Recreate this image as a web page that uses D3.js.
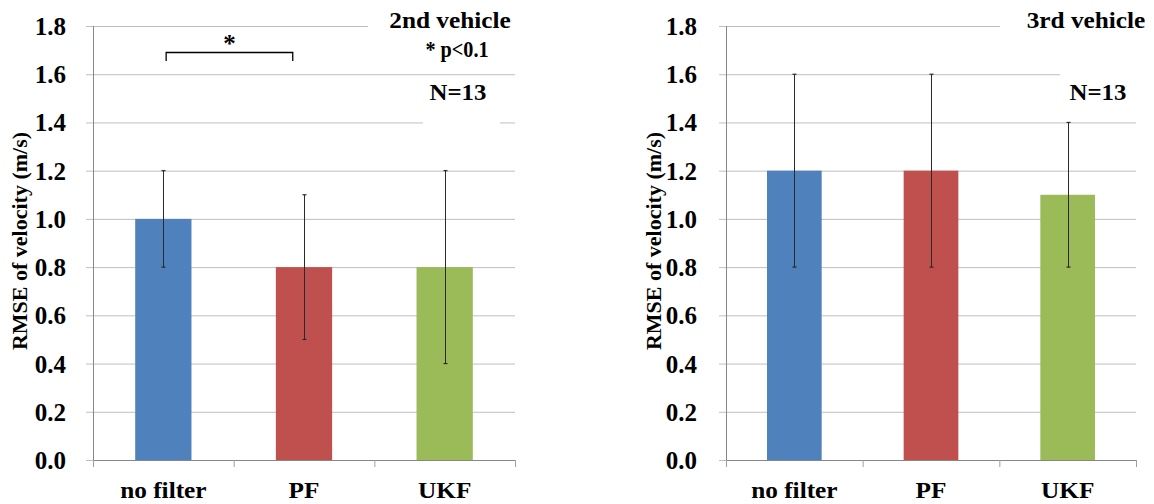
<!DOCTYPE html>
<html>
<head>
<meta charset="utf-8">
<script src="https://cdn.jsdelivr.net/npm/d3@7"></script>
<style>
  html, body { margin: 0; padding: 0; background: #fff; }
</style>
</head>
<body>
<svg id="chart" width="1154" height="504"></svg>
<script>
// ---- data ----
const categories = ["no filter", "PF", "UKF"];
const meanSecond = [1.0, 0.8, 0.8];
const lowSecond  = [0.8, 0.5, 0.4];
const highSecond = [1.2, 1.1, 1.2];
const meanThird  = [1.2, 1.2, 1.1];
const lowThird   = [0.8, 0.8, 0.8];
const highThird  = [1.6, 1.6, 1.4];
const yTicks = [0, 0.2, 0.4, 0.6, 0.8, 1.0, 1.2, 1.4, 1.6, 1.8];
const barColors = ["#4F81BD", "#C0504D", "#9BBB59"];
const yTitle = "RMSE of velocity  (m/s)";
const sigLevel = [1.69, 1.655];

const FONT = '"Liberation Serif"';
const svg = d3.select("#chart");

function styleText(sel, size) {
  sel.attr("font-family", FONT).attr("font-weight", "bold")
    .style("font-family", FONT).style("font-weight", "bold")
    .style("font-size", size + "px").attr("fill", "#000");
}
function stretch(sel, sx) {
  sel.each(function () {
    const t = d3.select(this);
    const x = +t.attr("x") || 0, y = +t.attr("y") || 0;
    t.attr("x", 0).attr("y", 0).attr("transform", `translate(${x},${y}) scale(${sx},1)`);
  });
}

function panel(cfg) {
  const g = svg.append("g");
  const y = d3.scaleLinear().domain([0, 1.8]).range([460, 26]);
  const x = d3.scaleBand().domain(categories).range([cfg.x0, cfg.x1]).padding(0);
  const bw = x.bandwidth();

  // gridlines + tick labels
  const ax = g.append("g")
    .attr("transform", `translate(${cfg.x1},0)`)
    .call(d3.axisLeft(y).tickValues(yTicks).tickFormat(d3.format(".1f"))
      .tickSize(cfg.x1 - cfg.x0 + 7).tickPadding(cfg.labelGap));
  ax.select(".domain").remove();
  ax.selectAll(".tick line").attr("stroke", "#bfbfbf").attr("stroke-width", 1);
  const tt = ax.selectAll(".tick text");
  styleText(tt, 25);
  tt.attr("dy", null).attr("y", 8.5);

  // white boxes behind annotations
  cfg.boxes.forEach(b => {
    g.append("rect").attr("x", b[0]).attr("y", b[1]).attr("width", b[2]).attr("height", b[3]).attr("fill", "#fff");
  });

  // vertical axis line
  g.append("line").attr("x1", cfg.x0 + 0.5).attr("x2", cfg.x0 + 0.5)
    .attr("y1", y(1.8)).attr("y2", y(0)).attr("stroke", "#868686");
  // bottom axis
  const bx = g.append("g").attr("transform", `translate(0,${y(0)})`)
    .call(d3.axisBottom(x).tickSize(0).tickPadding(22));
  bx.select(".domain").attr("stroke", "#868686");
  const bt = bx.selectAll(".tick text");
  styleText(bt, 23);
  bt.attr("dy", null).attr("y", 38);
  stretch(bt, 1.1);
  const bounds = categories.map(c => x(c)).concat([x(categories[2]) + bw]);
  g.selectAll(".ctick").data(bounds).enter().append("line")
    .attr("x1", d => d + 0.5).attr("x2", d => d + 0.5)
    .attr("y1", y(0)).attr("y2", y(0) + 7).attr("stroke", "#a0a0a0");

  // bars
  g.selectAll(".bar").data(cfg.mean).enter().append("rect")
    .attr("x", (d, i) => x(categories[i]) + bw * 0.3)
    .attr("width", bw * 0.4)
    .attr("y", d => y(d))
    .attr("height", d => y(0) - y(d))
    .attr("fill", (d, i) => barColors[i]);

  // error bars
  categories.forEach((c, i) => {
    const cx = Math.round(x(c) + bw / 2) + 0.5;
    g.append("line").attr("x1", cx).attr("x2", cx)
      .attr("y1", y(cfg.low[i])).attr("y2", y(cfg.high[i]))
      .attr("stroke", "#2a2a2a").attr("stroke-width", 1);
    [cfg.low[i], cfg.high[i]].forEach(v => {
      g.append("line").attr("x1", cx - 2).attr("x2", cx + 2)
        .attr("y1", y(v)).attr("y2", y(v)).attr("stroke", "#2a2a2a").attr("stroke-width", 1.2);
    });
  });

  // y title
  const yt = g.append("text")
    .attr("transform", `translate(${cfg.titleX},241) rotate(-90)`)
    .attr("text-anchor", "middle")
    .text(yTitle);
  styleText(yt, 22);

  // annotations
  cfg.notes.forEach(n => {
    const t = g.append("text").attr("x", n.x).attr("y", n.y).attr("text-anchor", "middle").text(n.t);
    styleText(t, 23);
    stretch(t, n.sx || 1.1);
  });

  if (cfg.sig) {
    const xl = x(categories[0]) + bw * 0.52;
    const xr = x(categories[1]) + bw * 0.42;
    g.append("path")
      .attr("d", `M${xl},${y(sigLevel[1])}L${xl},${y(sigLevel[0])}L${xr},${y(sigLevel[0])}L${xr},${y(sigLevel[1])}`)
      .attr("fill", "none").attr("stroke", "#000").attr("stroke-width", 1.3);
    const st = g.append("text").attr("x", (xl + xr) / 2).attr("y", y(sigLevel[0]) - 0.5)
      .attr("text-anchor", "middle").text("*");
    styleText(st, 25);
  }
}

panel({
  x0: 93, x1: 515, labelGap: 20, titleX: 27,
  mean: meanSecond, low: lowSecond, high: highSecond, sig: true,
  boxes: [[368, 0, 160, 68], [423, 80, 77, 48]],
  notes: [
    { t: "2nd vehicle", x: 450, y: 28 },
    { t: "* p<0.1", x: 457, y: 57, sx: 0.88 },
    { t: "N=13", x: 458, y: 100, sx: 1.08 }
  ]
});

panel({
  x0: 726, x1: 1136, labelGap: 22, titleX: 661,
  mean: meanThird, low: lowThird, high: highThird, sig: false,
  boxes: [[1000, 0, 154, 40], [1060, 70, 76, 46]],
  notes: [
    { t: "3rd vehicle", x: 1086, y: 28 },
    { t: "N=13", x: 1098, y: 100, sx: 1.08 }
  ]
});
</script>
</body>
</html>
